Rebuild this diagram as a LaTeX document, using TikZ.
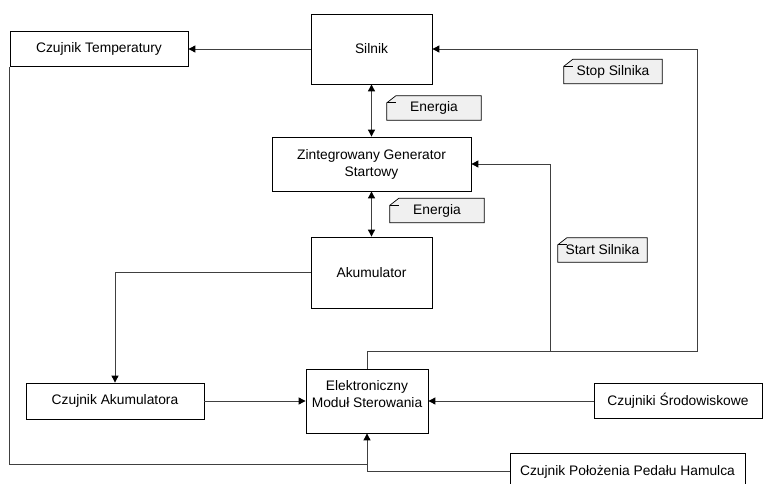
\documentclass[tikz,border=0pt]{standalone}
\usepackage{fontspec}
\setmainfont{Liberation Sans}
\usetikzlibrary{arrows.meta, calc}
\pgfdeclarelayer{background}
\pgfsetlayers{background,main}
\tikzset{
  block/.style={draw=black, line width=0.8pt, align=center, inner sep=2pt},
  note/.style={inner sep=2pt, minimum height=24pt},
  notebg/.style={draw=black, line width=0.7pt, fill=black!6},
  conn/.style={draw=black!75, line width=0.9pt},
  >={Triangle[length=7pt,width=7pt,color=black]}
}

\begin{document}
\begin{tikzpicture}[x=1pt, y=-1pt, every node/.style={font=\fontsize{13.8}{17}\selectfont}]
	\useasboundingbox (0,0) rectangle (763,484);

	% bloki
	\node[block, minimum width=121pt, minimum height=70pt] (silnik) at (371.5,49) {Silnik};
	\node[block, minimum width=178pt, minimum height=35pt] (ctemp) at (99,49) {Czujnik Temperatury};
	\node[block, minimum width=199pt, minimum height=54pt] (zgs) at (371.5,164) {Zintegrowany Generator\\Startowy};
	\node[block, minimum width=121pt, minimum height=71pt] (akum) at (371.5,272.5) {Akumulator};
	\node[block, minimum width=178pt, minimum height=36pt] (cakum) at (115,401) {Czujnik Akumulatora};
	\node[block, minimum width=122pt, minimum height=64pt] (ems) at (367,401) {Elektroniczny\\Moduł Sterowania\\[-2pt]\mbox{}};
	\node[block, minimum width=168pt, minimum height=35pt] (csrod) at (678,401) {Czujniki Środowiskowe};
	\node[block, minimum width=235pt, minimum height=37pt] (cpedal) at (627.5,471.5) {Czujnik Położenia Pedału Hamulca};

	% notatki
	\node[note, minimum width=94pt] (en1) at (434,108) {Energia};
	\node[note, minimum width=94pt] (en2) at (437,210.5) {Energia};
	\node[note, minimum width=98pt] (stop) at (613,71.5) {Stop Silnika};
	\node[note, minimum width=89pt] (start) at (602.5,250) {Start Silnika};
	\begin{pgfonlayer}{background}
		\foreach \n in {en1,en2,stop,start} {
			\draw[notebg] ($(\n.north west)+(9,0)$) -- (\n.north east) -- (\n.south east) -- (\n.south west) -- ($(\n.north west)+(0,7)$) -- cycle;
			\draw[notebg, fill=none] ($(\n.north west)+(0,7)$) -- ($(\n.north west)+(9,7)$);
		}
	\end{pgfonlayer}

	% polaczenia
	\draw[conn, ->] (silnik) -- (ctemp);
	\draw[conn, <->] (silnik) -- (zgs);
	\draw[conn, <->] (zgs) -- (akum);
	\draw[conn, ->] (akum.west) -| (cakum.north);
	\draw[conn, ->] (cakum) -- (ems);
	\draw[conn, ->] (csrod) -- (ems);
	\draw[conn, ->] (cpedal.west) -| (ems.south);
	\coordinate (tjoin) at (367,464);
	\draw[conn] (ctemp.south west) |- (tjoin);

	\coordinate (bus) at (367,351);
	\coordinate (startup) at (550,351);
	\coordinate (stopup) at (697,351);
	\draw[conn, ->] (ems.north) -- (bus) -- (startup) |- (zgs.east);
	\draw[conn, ->] (startup) -- (stopup) |- (silnik.east);
\end{tikzpicture}
\end{document}
